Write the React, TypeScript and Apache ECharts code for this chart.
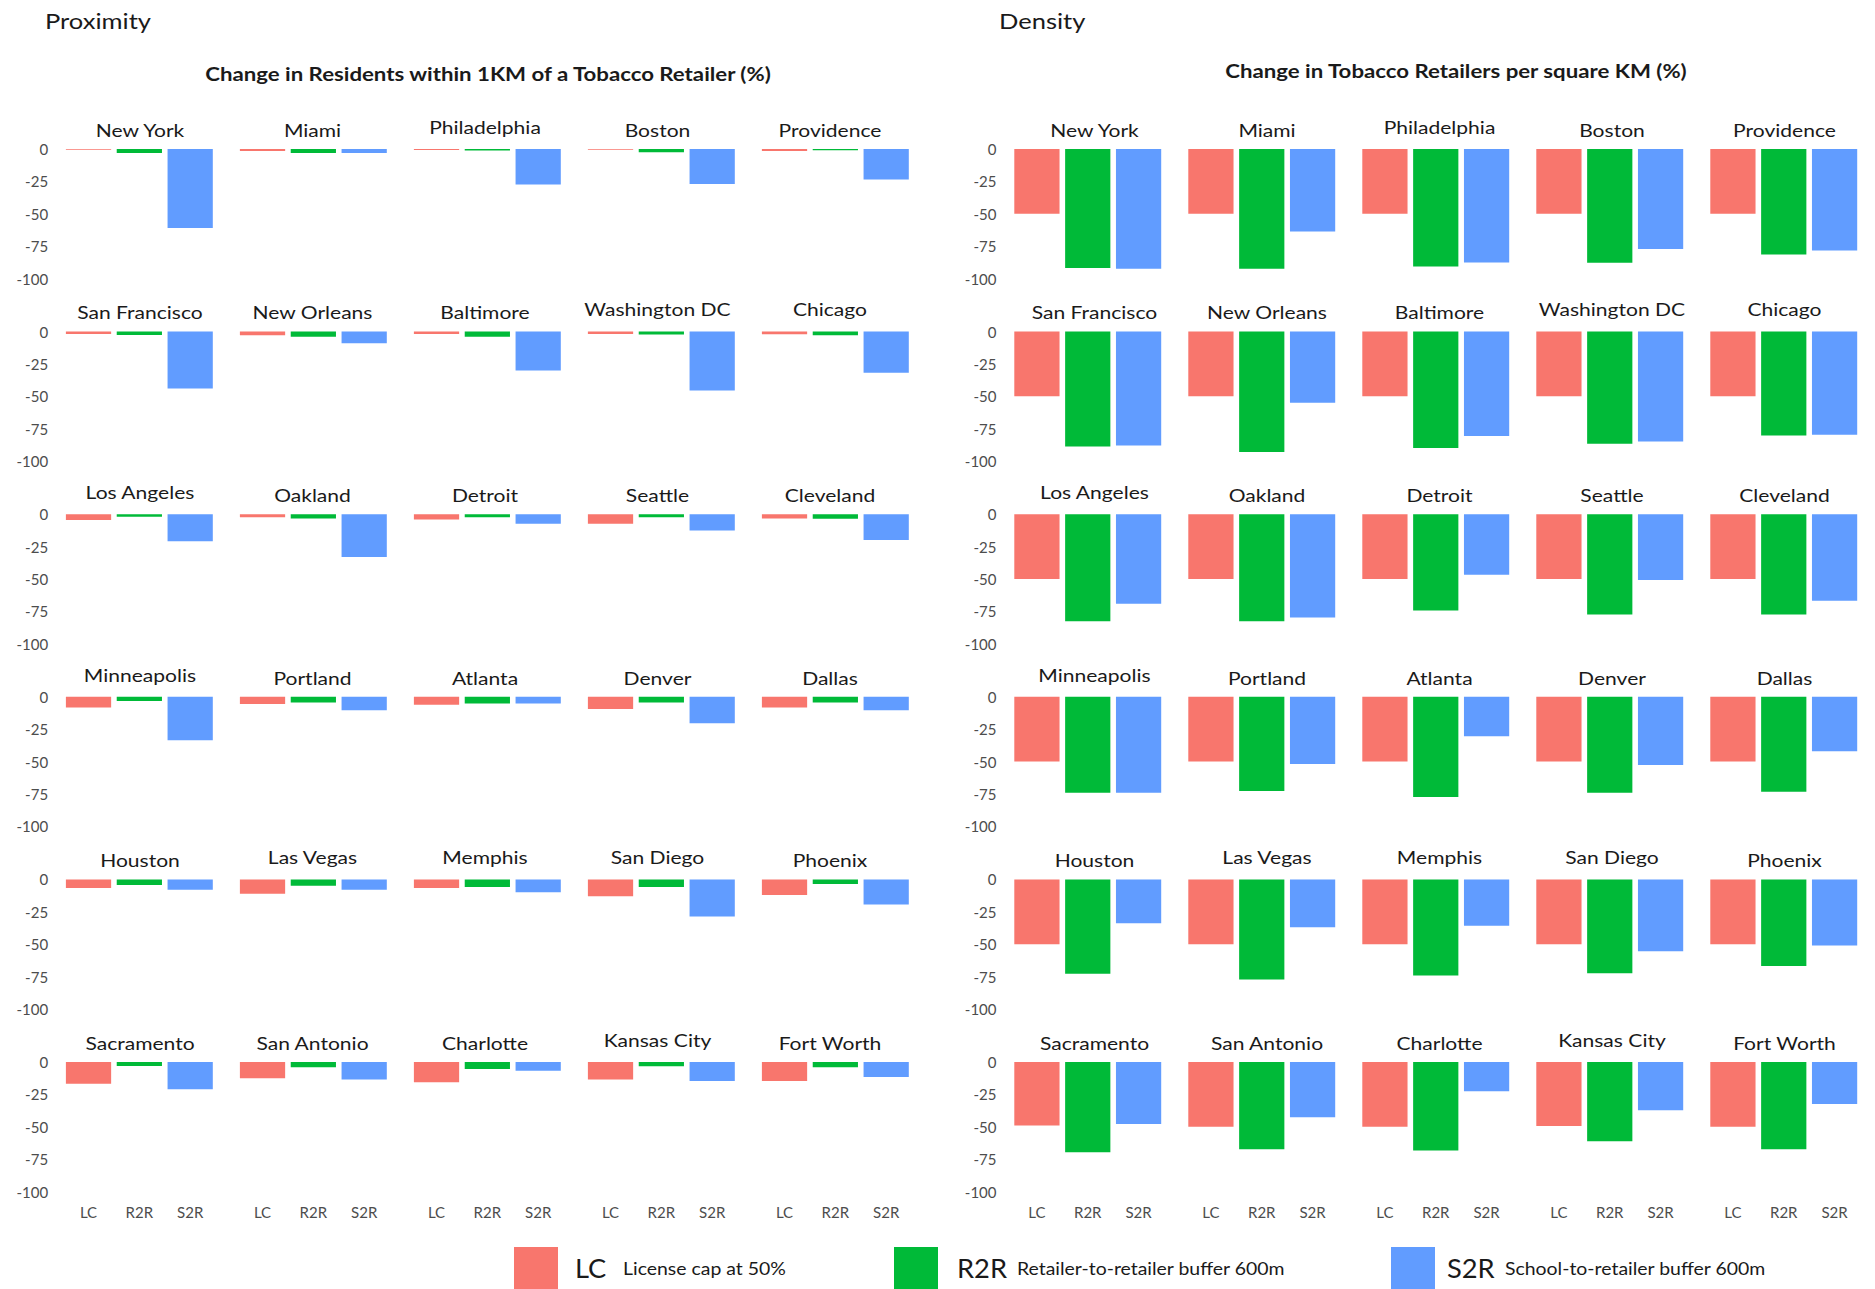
import React, { useEffect, useRef } from "react";
import * as echarts from "echarts";

const cities = [
  "New York", "Miami", "Philadelphia", "Boston", "Providence",
  "San Francisco", "New Orleans", "Baltimore", "Washington DC", "Chicago",
  "Los Angeles", "Oakland", "Detroit", "Seattle", "Cleveland",
  "Minneapolis", "Portland", "Atlanta", "Denver", "Dallas",
  "Houston", "Las Vegas", "Memphis", "San Diego", "Phoenix",
  "Sacramento", "San Antonio", "Charlotte", "Kansas City", "Fort Worth",
];
const policies = ["LC", "R2R", "S2R"];
const policyNames = ["License cap at 50%", "Retailer-to-retailer buffer 600m", "School-to-retailer buffer 600m"];
const colors = ["#F8766D", "#00BA38", "#619CFF"];

// Proximity: change in residents within 1KM of a tobacco retailer (%)
const proxLC = [
  -0.5, -1.5, -0.8, -0.5, -1.5,
  -1.8, -2.8, -1.8, -1.8, -2,
  -4.4, -2.3, -4.1, -7.4, -3.3,
  -8.2, -5.6, -6.2, -9.5, -8.2,
  -6.7, -11.1, -6.7, -13.1, -12.1,
  -16.7, -12.6, -15.7, -13.6, -14.7,
];
const proxR2R = [
  -3, -3, -1.2, -2.5, -1,
  -2.6, -3.9, -3.9, -2.3, -2.8,
  -2, -3.3, -2.3, -2.3, -3.6,
  -3.3, -4.4, -5.1, -4.4, -4.4,
  -4.4, -4.9, -5.9, -5.9, -3.6,
  -3.1, -4.1, -5.4, -3.3, -4.1,
];
const proxS2R = [
  -61, -3, -27.5, -27, -23.5,
  -44, -9, -30, -45.5, -31.7,
  -20.8, -33, -7.4, -12.6, -20,
  -33.6, -10.3, -5.1, -20.5, -10.3,
  -8, -8, -10, -28.6, -19.3,
  -21.1, -13.6, -6.7, -14.7, -11.6,
];

// Density: change in tobacco retailers per square KM (%)
const densLC = [
  -50, -50, -50, -50, -50,
  -50, -50, -50, -50, -50,
  -50, -50, -50, -50, -50,
  -50, -50, -50, -50, -50,
  -50, -50, -50, -50, -50,
  -49, -50, -50, -49.5, -50,
];
const densR2R = [
  -91.8, -92.5, -90.7, -87.9, -81.4,
  -88.7, -93, -89.9, -86.6, -80.2,
  -82.6, -82.6, -74.4, -77.4, -77.4,
  -74.1, -72.8, -77.4, -74.1, -73.3,
  -72.9, -77.3, -74.2, -72.4, -66.8,
  -69.7, -67.4, -68.4, -61.2, -67.4,
];
const densS2R = [
  -92.5, -63.7, -87.6, -77.3, -78.4,
  -87.9, -54.9, -80.7, -84.8, -79.6,
  -69.2, -79.7, -46.7, -50.8, -66.9,
  -74.1, -51.8, -30.5, -52.6, -42.1,
  -33.8, -36.9, -35.8, -55.4, -51,
  -47.8, -42.7, -22.6, -37.3, -32.4,
];

const panelTitles = ["Proximity", "Density"];
const panelSubtitles = [
  "Change in Residents within 1KM of a Tobacco Retailer (%)",
  "Change in Tobacco Retailers per square KM (%)",
];

const FONT = "Lato, 'Noto Sans', sans-serif";
const STRETCH = 1.17;

export default function App() {
  const ref = useRef<HTMLDivElement>(null);

  useEffect(() => {
    if (!ref.current) return;
    const chart = echarts.init(ref.current, null, { renderer: "svg" });

    const panels = [
      [proxLC, proxR2R, proxS2R],
      [densLC, densR2R, densS2R],
    ];
    const panelLeft = [63.1, 1011.5];
    const titleStart = [140, 1094.5];
    const titleStep = 172.5;
    const colStep = 174;
    const rowStep = 182.6;
    const top0 = 149;
    const gw = 152.5;
    const gh = 129.5;

    const grids: any[] = [];
    const xAxes: any[] = [];
    const yAxes: any[] = [];
    const series: any[] = [];
    const graphics: any[] = [];

    panels.forEach((vals, p) => {
      cities.forEach((city, i) => {
        const row = Math.floor(i / 5);
        const col = i % 5;
        const left = panelLeft[p] + col * colStep;
        const top = top0 + row * rowStep;
        const k = grids.length;
        grids.push({ left, top, width: gw, height: gh });
        xAxes.push({
          type: "category",
          gridIndex: k,
          data: policies,
          position: "bottom",
          axisLine: { show: false, onZero: false },
          axisTick: { show: false },
          splitLine: { show: false },
          axisLabel: {
            show: row === 5,
            color: "#4d4d4d",
            fontSize: 15,
            fontFamily: FONT,
            margin: 13,
          },
        });
        yAxes.push({
          type: "value",
          gridIndex: k,
          min: -100,
          max: 0,
          interval: 25,
          axisLine: { show: false },
          axisTick: { show: false },
          splitLine: { show: false },
          axisLabel: {
            show: col === 0,
            color: "#4d4d4d",
            fontSize: 15,
            fontFamily: FONT,
            margin: 15,
          },
        });
        series.push({
          type: "bar",
          xAxisIndex: k,
          yAxisIndex: k,
          barCategoryGap: "11%",
          data: policies.map((_, j) => ({
            value: vals[j][i],
            itemStyle: { color: colors[j] },
          })),
        });
        const desc = /[gpyqj]/.test(city) ? 3 : 0;
        graphics.push({
          type: "text",
          x: titleStart[p] + col * titleStep,
          y: top - 19 - desc,
          scaleX: STRETCH,
          style: {
            text: city,
            fontSize: 18,
            fontFamily: FONT,
            fill: "#1a1a1a",
            align: "center",
            verticalAlign: "middle",
          },
        });
      });
    });

    // Panel titles
    const titleX = [45, 999];
    const subX = [488, 1456];
    const subY = [74, 71];
    panelTitles.forEach((t, p) => {
      graphics.push({
        type: "text",
        x: titleX[p],
        y: 20,
        scaleX: 1.16,
        style: { text: t, fontSize: 22, fontFamily: FONT, fill: "#1a1a1a", align: "left", verticalAlign: "middle" },
      });
      graphics.push({
        type: "text",
        x: subX[p],
        y: subY[p],
        scaleX: STRETCH,
        style: {
          text: panelSubtitles[p],
          fontSize: 19,
          fontWeight: "bold",
          fontFamily: FONT,
          fill: "#1a1a1a",
          align: "center",
          verticalAlign: "middle",
        },
      });
    });

    // Legend
    const boxX = [514, 894, 1391];
    const abbrX = [575, 957, 1447];
    const descX = [623, 1017, 1505];
    policies.forEach((pol, j) => {
      graphics.push({
        type: "rect",
        shape: { x: boxX[j], y: 1247, width: 44, height: 44 },
        style: { fill: colors[j] },
      });
      graphics.push({
        type: "text",
        x: abbrX[j],
        y: 1268,
        scaleX: 1.05,
        style: { text: pol, fontSize: 26, fontFamily: FONT, fill: "#1a1a1a", align: "left", verticalAlign: "middle" },
      });
      graphics.push({
        type: "text",
        x: descX[j],
        y: 1268,
        scaleX: 1.08,
        style: { text: policyNames[j], fontSize: 18, fontFamily: FONT, fill: "#1a1a1a", align: "left", verticalAlign: "middle" },
      });
    });

    chart.setOption({
      animation: false,
      backgroundColor: "#ffffff",
      grid: grids,
      xAxis: xAxes,
      yAxis: yAxes,
      series,
      graphic: graphics,
    });

    return () => chart.dispose();
  }, []);

  return (
    <div
      ref={ref}
      style={{ position: "fixed", left: 0, top: 0, width: 1875, height: 1289, background: "#fff" }}
    />
  );
}
